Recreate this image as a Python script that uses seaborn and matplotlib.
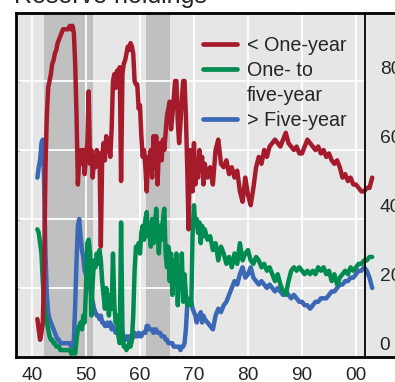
import numpy as np
import pandas as pd
import matplotlib
matplotlib.use("Agg")
import matplotlib.pyplot as plt
import seaborn as sns
from matplotlib.lines import Line2D

# time axis: quarterly up to 1972, half-yearly afterwards
years_q = np.arange(1941.0, 1972.01, 0.25)
years_h = np.arange(1972.5, 2003.01, 0.5)
years = np.concatenate([years_q, years_h])

# share of holdings (percent)
short_q = [11, 8, 5, 7, 10, 25, 55, 70, 78, 80, 82, 85, 86, 88, 89, 91,
           92, 93, 94, 95, 95, 95, 95, 95, 96, 95, 96, 94, 85, 70, 50, 58,
           60, 56, 60, 53, 58, 62, 77, 56, 60, 52, 58, 55, 60, 57, 59, 32,
           58, 62, 57, 64, 60, 62, 58, 66, 80, 82, 78, 83, 80, 84, 51, 82,
           85, 86, 88, 90, 89, 91, 90, 88, 80, 79, 79, 72, 73, 64, 58, 60,
           55, 48, 58, 56, 60, 52, 64, 55, 64, 50, 60, 62, 57, 63, 60, 65,
           70, 72, 74, 66, 70, 75, 80, 80, 68, 62, 68, 75, 80, 80, 70, 55,
           37, 60, 55, 48, 62, 50, 57, 52, 60, 54, 58, 50, 56]
short_h = [52, 55, 50, 60, 63, 56, 55, 57, 53, 55, 52, 54, 48, 45, 52, 47,
           44, 49, 55, 58, 56, 60, 58, 61, 62, 63, 62, 61, 63, 65, 62, 61,
           60, 61, 59, 59, 61, 63, 62, 61, 60, 61, 59, 60, 58, 59, 57, 56,
           57, 55, 52, 53, 51, 52, 50, 50, 49, 48, 48, 49, 49, 52]

mid_q = [37, 36, 33, 30, 22, 15, 12, 10, 8, 6, 5, 5, 4, 4, 3, 3,
         3, 2, 2, 2, 2, 2, 2, 2, 2, 1, 1, 2, 1, 5, 8, 9,
         10, 8, 12, 10, 20, 33, 34, 30, 12, 22, 28, 26, 30, 27, 31, 28,
         22, 18, 14, 20, 16, 12, 18, 14, 30, 15, 10, 12, 6, 4, 39, 8,
         3, 3, 2, 3, 4, 3, 5, 12, 25, 32, 31, 33, 30, 36, 38, 34,
         40, 42, 35, 38, 32, 40, 33, 37, 43, 36, 30, 38, 34, 40, 43, 30,
         26, 32, 22, 30, 18, 28, 24, 30, 15, 26, 20, 30, 16, 24, 18, 15,
         15, 16, 15, 36, 44, 38, 40, 36, 39, 33, 38, 35, 37]
mid_h = [34, 35, 31, 33, 28, 32, 30, 27, 29, 26, 30, 27, 33, 28, 30, 31,
         28, 27, 29, 28, 26, 27, 25, 26, 24, 22, 24, 21, 19, 18, 22, 25,
         26, 25, 26, 25, 24, 25, 24, 25, 24, 26, 25, 26, 24, 25, 22, 24,
         21, 23, 24, 25, 24, 26, 25, 26, 27, 27, 28, 28, 29, 29]

long_q = [52, 55, 57, 62, 63, 50, 30, 18, 13, 11, 10, 9, 8, 7, 6, 5,
          5, 4, 4, 4, 4, 4, 4, 4, 4, 3, 3, 5, 15, 28, 38, 40,
          35, 31, 29, 25, 24, 22, 21, 20, 18, 16, 14, 13, 12, 12, 11, 12,
          10, 10, 9, 9, 10, 9, 10, 8, 9, 8, 7, 7, 8, 6, 7, 6,
          5, 5, 6, 5, 6, 6, 5, 6, 7, 6, 6, 7, 6, 6, 7, 7,
          7, 9, 9, 8, 8, 8, 7, 8, 8, 7, 7, 7, 6, 6, 6, 5,
          5, 4, 4, 4, 4, 3, 3, 3, 3, 3, 2, 3, 3, 4, 8, 15,
          16, 17, 16, 14, 13, 12, 10, 12, 11, 13, 10, 12, 11]
long_h = [10, 9, 8, 12, 14, 13, 15, 16, 18, 20, 22, 21, 24, 26, 23, 24,
          26, 23, 22, 21, 22, 21, 20, 21, 20, 19, 20, 19, 18, 19, 18, 17,
          18, 17, 16, 16, 15, 15, 14, 15, 16, 16, 17, 17, 17, 18, 19, 19,
          20, 21, 21, 22, 22, 23, 23, 24, 25, 25, 26, 25, 23, 20]

series_names = ["< One-year", "One- to five-year", "> Five-year"]
series_colors = ["#a51b2c", "#008b50", "#3a68b4"]
shaded_periods = [(1942.25, 1951.25), (1961.1, 1965.6)]
decade_ticks = [1940, 1950, 1960, 1970, 1980, 1990, 2000]
decade_labels = ["40", "50", "60", "70", "80", "90", "00"]
y_labels = [0, 20, 40, 60, 80]
marker_year = 2001.67

df = pd.DataFrame({
    "year": np.tile(years, 3),
    "share": short_q + short_h + mid_q + mid_h + long_q + long_h,
    "series": np.repeat(series_names, len(years)),
})

sns.set_style("white")
plt.rcParams["font.family"] = ["Liberation Sans", "DejaVu Sans"]

fig = plt.figure(figsize=(3.95, 3.82), dpi=100)
ax = fig.add_axes([16 / 395, 25 / 382, 404 / 395, 344 / 382])
ax.set_facecolor("#e6e6e6")

x0 = 1937.04
x1 = x0 + 404 / 5.4
ax.set_xlim(x0, x1)
ax.set_ylim(0, 344 / 3.45)

for a, b in shaded_periods:
    ax.axvspan(a, b, color="#c0c0c0", lw=0, zorder=0.5)

# white grid: decades full height, levels stop at the marker line
for d in decade_ticks:
    ax.axvline(d, color="white", lw=1.3, zorder=0.8)
ax.hlines([20, 40, 60, 80], x0, marker_year, color="white", lw=1.3, zorder=0.8)
ax.axvline(marker_year, color="black", lw=1.3, zorder=5)

sns.lineplot(data=df, x="year", y="share", hue="series", hue_order=series_names,
             palette=series_colors, linewidth=3.2, legend=False, ax=ax,
             errorbar=None)
for ln, z in zip(ax.lines[-3:], [4, 3, 2]):
    ln.set_zorder(z)

# legend: the middle label wraps onto a second row without its own handle
handles = [Line2D([], [], color=series_colors[0], lw=3.4),
           Line2D([], [], color=series_colors[1], lw=3.4),
           Line2D([], [], color="none"),
           Line2D([], [], color=series_colors[2], lw=3.4)]
labels = ["< One-year", "One- to", "five-year", "> Five-year"]
ax.legend(handles, labels, loc="upper left", bbox_to_anchor=(0.463, 0.933),
          frameon=False, fontsize=14.2, handlelength=1.73, handletextpad=0.5,
          labelspacing=0.3, borderpad=0, borderaxespad=0)

for v in y_labels:
    ax.text(2004.4, v + 3.4, str(v), ha="left", va="center", fontsize=13.8)

ax.set_xticks(np.arange(1940, 2011, 5))
ax.set_xticklabels([decade_labels[decade_ticks.index(t)] if t in decade_ticks else ""
                    for t in np.arange(1940, 2011, 5)])
ax.tick_params(axis="x", direction="in", length=15, width=1, color="#222222",
               labelsize=13.8, pad=7)
ax.set_yticks([20, 40, 60, 80])
ax.set_yticklabels([])
ax.tick_params(axis="y", direction="in", length=3, width=1, left=True)
ax.set_xlabel("")
ax.set_ylabel("")

for side in ["left", "top", "bottom"]:
    ax.spines[side].set_color("black")
    ax.spines[side].set_linewidth(2)
ax.spines["right"].set_visible(False)

fig.text(14 / 395, 1 - 3.5 / 382, "Reserve holdings", fontsize=18, va="baseline")

fig.savefig("out.png", dpi=100)
